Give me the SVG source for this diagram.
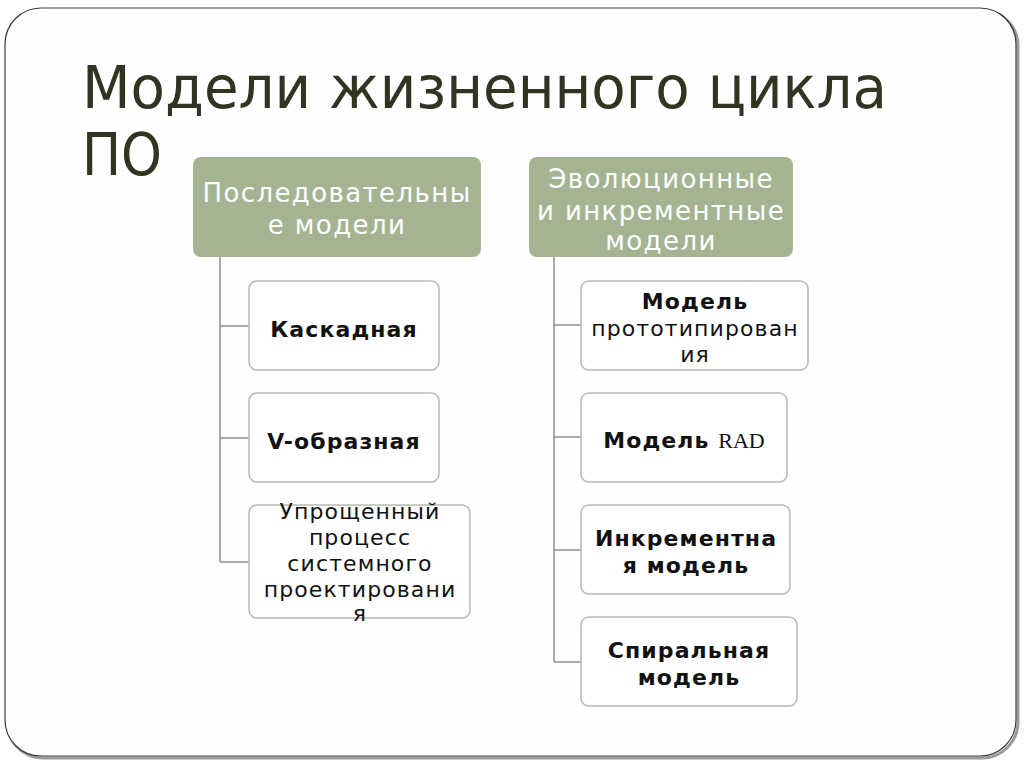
<svg xmlns="http://www.w3.org/2000/svg" width="1024" height="768" viewBox="0 0 1024 768">
<defs>
<style>
.title{font-family:"DejaVu Sans","Noto Sans",sans-serif;font-size:59px;fill:#2f3521}
.hdr rect{fill:#a4b492}
.hdr text{font-family:"DejaVu Sans","Noto Sans",sans-serif;font-size:26px;letter-spacing:1.4px;fill:#ffffff;text-anchor:middle}
.box rect{fill:#ffffff;stroke:#b7bab0;stroke-width:1.5}
.box text{font-family:"DejaVu Sans","Noto Sans",sans-serif;font-size:22px;letter-spacing:1.1px;fill:#111111;text-anchor:middle}
.b{font-weight:bold}
.conn line{stroke:#8c8f86;stroke-width:1.5}
</style>
</defs>
<rect width="1024" height="768" fill="#ffffff"/>
<rect x="7" y="10" width="1011" height="748" rx="36" fill="none" stroke="#9a9a9a" stroke-width="3"/>
<rect x="5" y="8" width="1011" height="748" rx="36" fill="#fefefe" stroke="#3a3a3a" stroke-width="1.2"/>
<g id="title">
<text class="title" x="82" y="108" textLength="805" lengthAdjust="spacingAndGlyphs">Модели жизненного цикла</text>
<text class="title" x="82" y="175" textLength="80" lengthAdjust="spacingAndGlyphs">ПО</text>
</g>
<g id="connectors" class="conn">
<line x1="220" y1="257" x2="220" y2="562"/>
<line x1="220" y1="326" x2="249" y2="326"/>
<line x1="220" y1="438" x2="249" y2="438"/>
<line x1="220" y1="562" x2="249" y2="562"/>
<line x1="554" y1="257" x2="554" y2="662"/>
<line x1="554" y1="325" x2="581" y2="325"/>
<line x1="554" y1="437" x2="581" y2="437"/>
<line x1="554" y1="550" x2="581" y2="550"/>
<line x1="554" y1="662" x2="581" y2="662"/>
</g>
<g id="h1" class="hdr">
<rect x="193" y="157" width="288" height="100" rx="8"/>
<text x="337" y="202">Последовательны</text>
<text x="337" y="234">е модели</text>
</g>
<g id="h2" class="hdr">
<rect x="529" y="157" width="264" height="100" rx="8"/>
<text x="661" y="188">Эволюционные</text>
<text x="661" y="220">и инкрементные</text>
<text x="661" y="250">модели</text>
</g>
<g id="n1" class="box">
<rect x="249" y="281" width="190" height="89" rx="8"/>
<text class="b" x="344" y="337">Каскадная</text>
</g>
<g id="n2" class="box">
<rect x="249" y="393" width="190" height="89" rx="8"/>
<text class="b" x="344" y="449">V-образная</text>
</g>
<g id="n3" class="box">
<rect x="249" y="505" width="221" height="113" rx="8"/>
<text x="360" y="519">Упрощенный</text>
<text x="360" y="545">процесс</text>
<text x="360" y="571">системного</text>
<text x="360" y="597">проектировани</text>
<text x="360" y="621">я</text>
</g>
<g id="n4" class="box">
<rect x="581" y="281" width="227" height="89" rx="8"/>
<text class="b" x="695" y="309">Модель</text>
<text x="695" y="336">прототипирован</text>
<text x="695" y="362">ия</text>
</g>
<g id="n5" class="box">
<rect x="581" y="393" width="206" height="89" rx="8"/>
<text x="684" y="448"><tspan class="b">Модель </tspan><tspan style="font-family:'Liberation Serif',serif;font-weight:normal;letter-spacing:0">RAD</tspan></text>
</g>
<g id="n6" class="box">
<rect x="581" y="505" width="209" height="89" rx="8"/>
<text class="b" x="686" y="546">Инкрементна</text>
<text class="b" x="686" y="573">я модель</text>
</g>
<g id="n7" class="box">
<rect x="581" y="617" width="216" height="89" rx="8"/>
<text class="b" x="689" y="658">Спиральная</text>
<text class="b" x="689" y="685">модель</text>
</g>
</svg>
